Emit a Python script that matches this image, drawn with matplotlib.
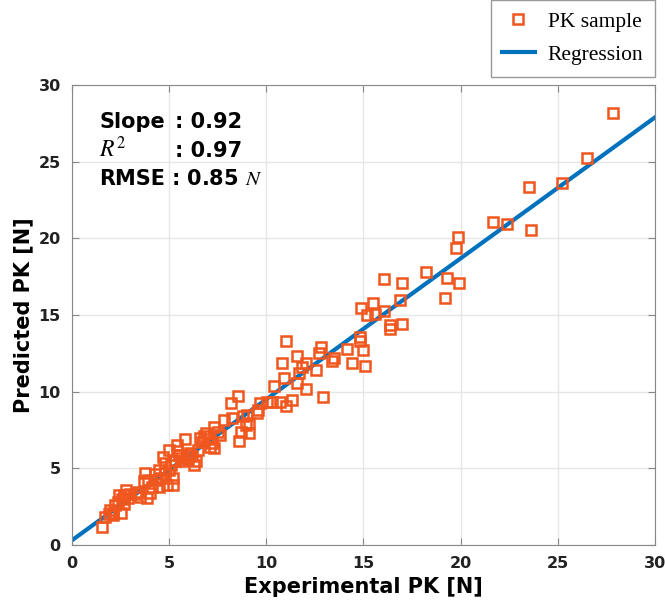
import numpy as np
import matplotlib.pyplot as plt

plt.rcParams['mathtext.fontset'] = 'stix'

# PK samples: experimental vs predicted
exp_pk = [1.55, 1.7, 1.95, 2.1, 2.1, 2.55, 2.2, 2.35, 2.7, 2.9, 2.45, 2.7, 2.8, 3.0, 3.4,
          3.5, 3.85, 4.0, 3.75, 3.9, 4.1, 4.35, 4.5, 4.5, 4.7, 4.8, 5.0, 5.2, 5.2, 4.9,
          5.0, 5.4, 5.4, 5.8, 5.6, 5.95, 6.3, 6.4, 6.7, 7.1, 7.3, 6.9, 7.3, 7.2, 7.85,
          8.25, 8.6, 8.7, 9.1, 9.1, 8.97, 9.0, 8.8, 9.6, 9.5, 8.55, 8.2, 9.7, 10.05, 10.3,
          10.7, 11.0, 11.35, 10.4, 11.6, 12.05, 10.9, 11.7, 11.85, 12.55, 12.05, 11.6, 10.8,
          11.0, 12.7, 12.8, 12.9, 13.4, 13.5, 14.15, 14.4, 15.1, 15.0, 14.8, 14.8, 15.2,
          14.9, 15.5, 15.6, 16.05, 16.35, 16.35, 17.0, 16.9, 16.05, 17.0, 18.2, 19.2, 19.3,
          19.9, 19.75, 19.85, 21.65, 22.4, 23.6, 23.5, 25.2, 26.5, 27.85,
          4.6, 4.8, 5.1, 5.3, 5.5, 6.0, 6.1, 6.5, 6.6, 6.8, 7.0, 7.5, 7.6, 6.2, 5.7,
          4.3, 3.7, 3.3, 2.6, 1.9]
pred_pk = [1.2, 1.8, 2.3, 1.95, 2.1, 2.1, 2.6, 2.8, 2.7, 3.05, 3.25, 3.25, 3.6, 3.3, 3.45,
           3.1, 3.05, 3.4, 4.7, 4.25, 3.8, 4.25, 3.8, 4.9, 5.75, 5.35, 4.9, 4.4, 3.9, 3.9,
           6.2, 6.5, 6.1, 6.9, 5.7, 5.9, 5.2, 5.5, 6.7, 6.4, 6.3, 7.3, 7.7, 6.65, 8.15,
           8.3, 6.8, 7.4, 7.3, 7.95, 7.8, 8.5, 8.4, 8.8, 8.6, 9.7, 9.25, 9.25, 9.3, 9.3,
           9.3, 9.1, 9.45, 10.4, 10.6, 10.2, 10.9, 11.2, 11.6, 11.4, 11.9, 12.3, 11.9,
           13.3, 12.5, 12.9, 9.65, 12.0, 12.2, 12.8, 11.9, 11.7, 12.7, 13.3, 13.6, 15.0,
           15.46, 15.8, 15.1, 15.26, 14.35, 14.1, 14.4, 16.0, 17.35, 17.1, 17.8, 16.1, 17.4,
           17.1, 19.35, 20.1, 21.1, 20.95, 20.55, 23.35, 23.6, 25.25, 28.2,
           4.4, 4.7, 5.2, 5.5, 5.9, 5.6, 6.0, 6.2, 7.0, 7.1, 6.9, 7.4, 7.2, 5.8, 5.5,
           4.6, 4.2, 3.3, 3.0, 2.0]

reg_slope = 0.92
reg_intercept = 0.3

fig = plt.figure(figsize=(6.65, 6.04), dpi=100)
ax = fig.add_axes([0.108, 0.0977, 0.877, 0.7613])

ax.plot(exp_pk, pred_pk, 's', ms=7.8, mfc='none', mec='#F0561D', mew=1.8,
        label='PK sample', zorder=3)
xr = np.array([0, 30])
ax.plot(xr, reg_slope * xr + reg_intercept, color='#0072BD', lw=3,
        label='Regression', zorder=2)

ax.set_xlim(0, 30)
ax.set_ylim(0, 30)
ax.set_xticks(range(0, 31, 5))
ax.set_yticks(range(0, 31, 5))
ax.grid(True, color='#e6e6e6', lw=1)
ax.set_axisbelow(True)
ax.tick_params(direction='in', top=True, right=True, length=5, color='#888888',
               labelsize=11.5, pad=8, labelcolor='#222222')
for lbl in ax.get_xticklabels() + ax.get_yticklabels():
    lbl.set_fontweight('bold')
for s in ax.spines.values():
    s.set_color('#888888')

ax.set_xlabel('Experimental PK [N]', fontsize=15, fontweight='bold', labelpad=4)
ax.set_ylabel('Predicted PK [N]', fontsize=15, fontweight='bold', labelpad=4)

ax.text(1.4, 27.6, 'Slope', fontsize=15, fontweight='bold', va='center')
ax.text(1.4, 25.8, '$R^2$', fontsize=17, va='center')
ax.text(1.4, 23.9, 'RMSE', fontsize=15, fontweight='bold', va='center')
ax.text(5.3, 27.6, ': 0.92', fontsize=15, fontweight='bold', va='center')
ax.text(5.3, 25.7, ': 0.97', fontsize=15, fontweight='bold', va='center')
ax.text(5.1, 23.9, ': 0.85 $N$', fontsize=15, fontweight='bold', va='center')

leg = ax.legend(loc='upper right', bbox_to_anchor=(1.0, 1.185), fancybox=False,
                prop={'family': 'Liberation Serif', 'size': 15.5}, handlelength=1.5,
                handletextpad=0.6, borderpad=0.55, labelspacing=0.6, framealpha=1,
                borderaxespad=0)
leg.get_frame().set_edgecolor('#999999')

fig.savefig('out.png', dpi=100)
